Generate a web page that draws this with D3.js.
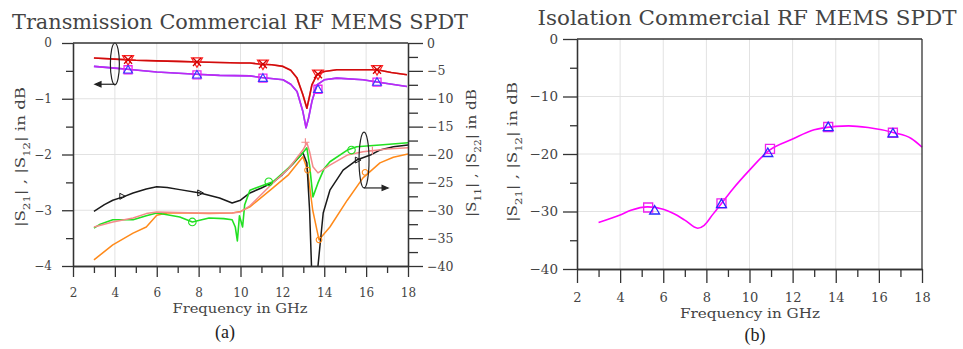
<!DOCTYPE html>
<html>
<head>
<meta charset="utf-8">
<script src="https://cdn.jsdelivr.net/npm/d3@7"></script>
<style>
  body { margin: 0; background: #fff; }
  svg { display: block; }
  .axis path, .axis line { stroke: #333; stroke-width: 1.3; }
  .axis text { font-family: 'DejaVu Serif', serif; fill: #444; }
  .grid line { stroke: #e2e2e2; stroke-width: 1; }
</style>
</head>
<body>
<div id="chart"></div>
<script>
// tick values
const xMajor = [2, 4, 6, 8, 10, 12, 14, 16, 18];
const xMinor = [3, 5, 7, 9, 11, 13, 15, 17];
const yLeftMajor = [0, -1, -2, -3, -4];
const yLeftMinor = [-0.5, -1.5, -2.5, -3.5];
const yRightMajor = [0, -5, -10, -15, -20, -25, -30, -35, -40];
const yRightMinor = [-2.5, -7.5, -12.5, -17.5, -22.5, -27.5, -32.5, -37.5];
const isoMajor = [0, -10, -20, -30, -40];
const isoMinor = [-5, -15, -25, -35];

// (a) transmission |S21|, |S12|  [GHz, dB] left axis
const s21Red = [[3,-0.27],[4,-0.29],[5,-0.31],[6,-0.32],[7,-0.33],[8,-0.34],[9,-0.35],[10,-0.36],[10.45,-0.36],[11,-0.38],[11.5,-0.39],[12.03,-0.42],[12.4,-0.49],[12.7,-0.63],[12.98,-0.93],[13.17,-1.17],[13.3,-0.95],[13.41,-0.75],[13.65,-0.57],[14,-0.51],[14.6,-0.48],[15.5,-0.48],[16.52,-0.48],[17.2,-0.53],[17.95,-0.57]];
const s12Mag = [[3,-0.42],[4,-0.45],[4.6,-0.47],[6,-0.52],[7.9,-0.56],[9,-0.58],[10.45,-0.59],[11,-0.62],[12.03,-0.66],[12.4,-0.74],[12.7,-0.87],[12.98,-1.23],[13.13,-1.52],[13.25,-1.35],[13.41,-1.05],[13.65,-0.75],[14,-0.66],[14.6,-0.63],[15.85,-0.66],[16.52,-0.7],[17.95,-0.78]];
const redMarks = [[4.63,-0.3],[7.92,-0.34],[11.07,-0.38],[13.7,-0.56],[16.52,-0.48]];
const magMarks = [[4.63,-0.48],[7.92,-0.57],[11.07,-0.63],[13.7,-0.83],[16.52,-0.7]];

// (a) reflection |S11|, |S22|  [GHz, dB] right axis
const s11Black = [[3,-30.2],[3.5,-29],[3.9,-28.2],[4.4,-27.6],[4.87,-26.9],[5.5,-26.2],[6,-25.8],[6.5,-25.9],[7.1,-26.3],[8.07,-26.9],[9,-27.8],[9.6,-28.7],[10,-28.2],[10.45,-26.9],[11,-26],[11.55,-25],[12,-23.6],[12.5,-21.7],[12.98,-19.7],[13.17,-21.5],[13.3,-30],[13.4,-41],[13.6,-41],[13.7,-40],[13.95,-30.5],[14.27,-26.4],[14.9,-22.8],[15.55,-21],[16.2,-20.1],[16.66,-19.2],[17.3,-18.6],[18,-18.3]];
const s22Pink = [[3,-33],[3.9,-32.1],[4.87,-31.4],[5.5,-30.6],[6,-30.3],[7,-30.4],[8,-30.5],[9,-30.5],[9.6,-30.5],[10,-30.3],[10.45,-29.2],[11.55,-25.1],[12.3,-22.5],[12.98,-19.2],[13.17,-17.9],[13.3,-19.5],[13.46,-22.2],[13.7,-23.3],[14.27,-21.9],[15.1,-20.1],[15.85,-19.5],[17,-19],[18,-18.8]];
const s11Green = [[3,-33.2],[3.3,-32.5],[3.9,-31.7],[4.87,-31.7],[5.5,-31],[6,-30.5],[6.5,-30.8],[7.1,-31.2],[7.7,-32.1],[8.5,-31.4],[9.2,-31.5],[9.6,-31.7],[9.75,-33],[9.85,-35.5],[9.95,-31],[10.1,-33],[10.2,-29],[10.45,-26.4],[11.55,-24.9],[12.3,-22.4],[12.98,-19.7],[13.17,-18.8],[13.3,-22],[13.46,-27.6],[13.7,-25.1],[14,-22.5],[14.27,-21.3],[15.1,-19.2],[15.55,-18.6],[16.66,-18.3],[18,-17.9]];
const s22Orange = [[3,-38.9],[3.3,-38],[3.9,-36.2],[4.87,-34.1],[5.5,-33],[6,-30.9],[6.5,-30.5],[7.5,-30.5],[8.5,-30.6],[9.6,-30.5],[10,-30.2],[10.45,-29.4],[11.55,-26],[12.3,-23.6],[12.98,-20.4],[13.2,-22.8],[13.45,-30],[13.75,-35.3],[14.27,-33],[15.1,-28.2],[15.85,-24.2],[16.66,-21.5],[17.3,-20.5],[18,-19.9]];
const blackMarks = [[4.35,-27.5],[8.07,-26.9],[15.6,-21]];
const pinkMarks = [[13.1,-17.8],[16.3,-19.3]];
const greenMarks = [[7.7,-32.1],[11.35,-24.9],[15.3,-19.2]];
const orangeMarks = [[13.2,-22.8],[13.75,-35.3],[15.95,-23.2]];

// (b) isolation [GHz, dB]
const isoCurve = [[3,-31.9],[4,-30.6],[4.5,-29.8],[5.27,-29.2],[6,-29.6],[6.5,-30.4],[7,-31.5],[7.6,-32.9],[7.9,-32.4],[8.3,-30.5],[8.7,-28.6],[9.2,-26.2],[10,-22.8],[10.9,-19.4],[12,-17.4],[13,-15.8],[14,-15.2],[14.6,-15.1],[15.5,-15.4],[16.7,-16.3],[17.5,-17.3],[18,-18.8]];
const isoSquares = [[5.3,-29.3],[8.7,-28.6],[10.95,-19.1],[13.65,-15.3],[16.65,-16.3]];
const isoTriangles = [[5.6,-29.8],[8.7,-28.7],[10.85,-19.8],[13.65,-15.3],[16.65,-16.4]];

const W = 963, H = 349;
const svg = d3.select('#chart').append('svg').attr('width', W).attr('height', H);
const fmt = d3.format('d');

function triPath(s, dir) {
  // dir: 1 = up, -1 = down
  const h = s * 0.9;
  return `M0,${-dir * h * 0.6}L${s * 0.55},${dir * h * 0.45}L${-s * 0.55},${dir * h * 0.45}Z`;
}
function rightTriPath(s) {
  return `M${s * 0.55},0L${-s * 0.4},${-s * 0.5}L${-s * 0.4},${s * 0.5}Z`;
}
function xPath(s) { const h = s / 2; return `M${-h},${-h}L${h},${h}M${-h},${h}L${h},${-h}`; }
function plusPath(s) { const h = s / 2; return `M${-h},0L${h},0M0,${-h}L0,${h}`; }
function sqPath(s) { const h = s / 2; return `M${-h},${-h}H${h}V${h}H${-h}Z`; }

function drawMarks(g, data, x, y, path, color, width) {
  g.selectAll(null).data(data).enter().append('path')
    .attr('transform', d => `translate(${x(d[0])},${y(d[1])})`)
    .attr('d', path)
    .attr('fill', 'none')
    .attr('stroke', color)
    .attr('stroke-width', width || 1.2);
}

function drawLine(g, data, x, y, color, width, opacity, curve) {
  const line = d3.line().x(d => x(d[0])).y(d => y(d[1])).curve(curve || d3.curveLinear);
  g.append('path').datum(data)
    .attr('d', line)
    .attr('fill', 'none')
    .attr('stroke', color)
    .attr('stroke-width', width)
    .attr('stroke-opacity', opacity == null ? 1 : opacity)
    .attr('stroke-linejoin', 'round');
}

function subLabel(t, parts) {
  parts.forEach(p => {
    const ts = t.append('tspan').text(p[0]);
    if (p[1]) ts.attr('baseline-shift', 'sub').style('font-size', '70%');
  });
}

// ---------------- (a) transmission ----------------
const ax = { left: 73, right: 408, top: 43, bottom: 266 };
const xA = d3.scaleLinear().domain([2, 18]).range([ax.left, ax.right]);
const yL = d3.scaleLinear().domain([-4, 0]).range([ax.bottom, ax.top]);
const yR = d3.scaleLinear().domain([-40, 0]).range([ax.bottom, ax.top]);

const gA = svg.append('g');

gA.append('g').attr('class', 'grid')
  .selectAll('line').data(xMajor.slice(1, -1)).enter().append('line')
  .attr('x1', d => xA(d)).attr('x2', d => xA(d)).attr('y1', ax.top).attr('y2', ax.bottom);
gA.append('g').attr('class', 'grid')
  .selectAll('line').data(yLeftMajor.slice(1, -1)).enter().append('line')
  .attr('y1', d => yL(d)).attr('y2', d => yL(d)).attr('x1', ax.left).attr('x2', ax.right);

svg.append('clipPath').attr('id', 'clipA').append('rect')
  .attr('x', ax.left).attr('y', ax.top).attr('width', ax.right - ax.left).attr('height', ax.bottom - ax.top);
const dA = gA.append('g').attr('clip-path', 'url(#clipA)');

drawLine(dA, s22Orange, xA, yR, '#ff8a1a', 1.5);
drawLine(dA, s11Black, xA, yR, '#1a1a1a', 1.5);
drawLine(dA, s11Green, xA, yR, '#22e022', 1.6);
drawLine(dA, s22Pink, xA, yR, '#f58a8a', 1.5);
drawLine(dA, s12Mag, xA, yL, '#3a3aff', 1.6);
drawLine(dA, s12Mag, xA, yL, '#ee22ee', 1.6, 0.75);
drawLine(dA, s21Red, xA, yL, '#ff2020', 1.6);
drawLine(dA, s21Red, xA, yL, '#b00000', 1.6, 0.6);

drawMarks(gA, redMarks, xA, yL, triPath(10, -1), '#ff2020', 1.2);
drawMarks(gA, redMarks, xA, yL, xPath(8), '#cc0000', 1.3);
drawMarks(gA, magMarks, xA, yL, sqPath(8), '#ee22ee', 1.3);
drawMarks(gA, magMarks, xA, yL, triPath(8, 1), '#3a3aff', 1.2);
drawMarks(gA, blackMarks, xA, yR, rightTriPath(6), '#1a1a1a', 1);
drawMarks(gA, pinkMarks, xA, yR, plusPath(8), '#f58a8a', 1.2);
drawMarks(gA, greenMarks, xA, yR, d3.symbol(d3.symbolCircle, 45)(), '#22e022', 1.1);
drawMarks(gA, orangeMarks, xA, yR, d3.symbol(d3.symbolCircle, 25)(), '#ff8a1a', 1.1);

// annotation ellipses
const arrowA = gA.append('g').attr('stroke', '#222').attr('fill', 'none').attr('stroke-width', 1.2);
arrowA.append('ellipse').attr('cx', xA(4.0)).attr('cy', (yL(0) + yL(-0.75)) / 2)
  .attr('rx', 4.5).attr('ry', (yL(-0.75) - yL(0)) / 2);
arrowA.append('line').attr('x1', xA(4.0)).attr('x2', xA(3.1)).attr('y1', yL(-0.74)).attr('y2', yL(-0.74));
arrowA.append('path').attr('d', `M${xA(3.05)},${yL(-0.74)}l6,-2.5l0,5z`).attr('fill', '#222');
arrowA.append('ellipse').attr('cx', xA(15.9)).attr('cy', (yR(-16) + yR(-26)) / 2)
  .attr('rx', 5).attr('ry', (yR(-26) - yR(-16)) / 2);
arrowA.append('line').attr('x1', xA(15.9)).attr('x2', xA(16.95)).attr('y1', yR(-26)).attr('y2', yR(-26));
arrowA.append('path').attr('d', `M${xA(17.05)},${yR(-26)}l-6,-2.5l0,5z`).attr('fill', '#222');

// axes
gA.append('line').attr('x1', ax.left).attr('x2', ax.right).attr('y1', ax.top).attr('y2', ax.top)
  .attr('stroke', '#333').attr('stroke-width', 1.3);
gA.append('g').attr('class', 'axis').attr('transform', `translate(0,${ax.bottom})`)
  .call(d3.axisBottom(xA).tickValues(xMinor).tickSize(7).tickSizeOuter(0).tickFormat(''));
gA.append('g').attr('class', 'axis').attr('transform', `translate(0,${ax.bottom})`)
  .call(d3.axisBottom(xA).tickValues(xMajor).tickSize(11).tickSizeOuter(0).tickPadding(11).tickFormat(fmt))
  .selectAll('text').style('font-size', '12px');
gA.append('g').attr('class', 'axis').attr('transform', `translate(${ax.left},0)`)
  .call(d3.axisLeft(yL).tickValues(yLeftMinor).tickSize(7).tickSizeOuter(0).tickFormat(''));
gA.append('g').attr('class', 'axis').attr('transform', `translate(${ax.left},0)`)
  .call(d3.axisLeft(yL).tickValues(yLeftMajor).tickSize(11).tickSizeOuter(0).tickPadding(10).tickFormat(fmt))
  .selectAll('text').style('font-size', '12px');
gA.append('g').attr('class', 'axis').attr('transform', `translate(${ax.right},0)`)
  .call(d3.axisRight(yR).tickValues(yRightMinor).tickSize(10).tickSizeOuter(0).tickFormat(''));
gA.append('g').attr('class', 'axis').attr('transform', `translate(${ax.right},0)`)
  .call(d3.axisRight(yR).tickValues(yRightMajor).tickSize(15).tickSizeOuter(0).tickPadding(4).tickFormat(fmt))
  .selectAll('text').style('font-size', '12.5px');

gA.append('text').attr('x', 240).attr('y', 29).attr('text-anchor', 'middle')
  .attr('textLength', 456).attr('lengthAdjust', 'spacingAndGlyphs')
  .style('font-family', 'DejaVu Serif').style('font-size', '20px').style('fill', '#444')
  .text('Transmission Commercial RF MEMS SPDT');
gA.append('text').attr('x', 240).attr('y', 313).attr('text-anchor', 'middle')
  .attr('textLength', 135).attr('lengthAdjust', 'spacingAndGlyphs')
  .style('font-family', 'DejaVu Serif').style('font-size', '12px').style('fill', '#444')
  .text('Frequency in GHz');
gA.append('text').attr('x', 225).attr('y', 338).attr('text-anchor', 'middle')
  .style('font-family', 'Liberation Serif').style('font-size', '18px').style('fill', '#222')
  .text('(a)');
subLabel(gA.append('text').attr('transform', 'translate(25,157) rotate(-90)').attr('text-anchor', 'middle')
  .attr('textLength', 140).attr('lengthAdjust', 'spacingAndGlyphs')
  .style('font-family', 'DejaVu Serif').style('font-size', '12.5px').style('fill', '#444'),
  [['|S'], ['21', 1], ['| , |S'], ['12', 1], ['| in dB']]);
subLabel(gA.append('text').attr('transform', 'translate(476,153) rotate(-90)').attr('text-anchor', 'middle')
  .attr('textLength', 128).attr('lengthAdjust', 'spacingAndGlyphs')
  .style('font-family', 'DejaVu Serif').style('font-size', '12.5px').style('fill', '#444'),
  [['|S'], ['11', 1], ['| , |S'], ['22', 1], ['| in dB']]);

// ---------------- (b) isolation ----------------
const bx = { left: 577, right: 922, top: 39, bottom: 269 };
const xB = d3.scaleLinear().domain([2, 18]).range([bx.left, bx.right]);
const yB = d3.scaleLinear().domain([-40, 0]).range([bx.bottom, bx.top]);
const gB = svg.append('g');

gB.append('g').attr('class', 'grid')
  .selectAll('line').data(xMajor.slice(1, -1)).enter().append('line')
  .attr('x1', d => xB(d)).attr('x2', d => xB(d)).attr('y1', bx.top).attr('y2', bx.bottom);
gB.append('g').attr('class', 'grid')
  .selectAll('line').data(isoMajor.slice(1, -1)).enter().append('line')
  .attr('y1', d => yB(d)).attr('y2', d => yB(d)).attr('x1', bx.left).attr('x2', bx.right);

drawLine(gB, isoCurve, xB, yB, '#ff00ff', 1.6, 1, d3.curveMonotoneX);
drawMarks(gB, isoSquares, xB, yB, sqPath(9), '#ee22ee', 1.3);
drawMarks(gB, isoTriangles, xB, yB, triPath(9, 1), '#2a2aff', 1.3);

gB.append('line').attr('x1', bx.left).attr('x2', bx.right).attr('y1', bx.top).attr('y2', bx.top)
  .attr('stroke', '#333').attr('stroke-width', 1.3);
gB.append('line').attr('x1', bx.right).attr('x2', bx.right).attr('y1', bx.top).attr('y2', bx.bottom)
  .attr('stroke', '#333').attr('stroke-width', 1.3);
gB.append('g').attr('class', 'axis').attr('transform', `translate(0,${bx.bottom})`)
  .call(d3.axisBottom(xB).tickValues(xMinor).tickSize(8).tickSizeOuter(0).tickFormat(''));
gB.append('g').attr('class', 'axis').attr('transform', `translate(0,${bx.bottom})`)
  .call(d3.axisBottom(xB).tickValues(xMajor).tickSize(14).tickSizeOuter(0).tickPadding(10).tickFormat(fmt))
  .selectAll('text').style('font-size', '13px');
gB.append('g').attr('class', 'axis').attr('transform', `translate(${bx.left},0)`)
  .call(d3.axisLeft(yB).tickValues(isoMinor).tickSize(7).tickSizeOuter(0).tickFormat(''));
gB.append('g').attr('class', 'axis').attr('transform', `translate(${bx.left},0)`)
  .call(d3.axisLeft(yB).tickValues(isoMajor).tickSize(14).tickSizeOuter(0).tickPadding(5).tickFormat(fmt))
  .selectAll('text').style('font-size', '13.5px');

gB.append('text').attr('x', 747).attr('y', 25).attr('text-anchor', 'middle')
  .attr('textLength', 419).attr('lengthAdjust', 'spacingAndGlyphs')
  .style('font-family', 'DejaVu Serif').style('font-size', '20px').style('fill', '#444')
  .text('Isolation Commercial RF MEMS SPDT');
gB.append('text').attr('x', 750).attr('y', 318).attr('text-anchor', 'middle')
  .attr('textLength', 140).attr('lengthAdjust', 'spacingAndGlyphs')
  .style('font-family', 'DejaVu Serif').style('font-size', '12.5px').style('fill', '#444')
  .text('Frequency in GHz');
gB.append('text').attr('x', 755).attr('y', 341).attr('text-anchor', 'middle')
  .style('font-family', 'Liberation Serif').style('font-size', '18px').style('fill', '#222')
  .text('(b)');
subLabel(gB.append('text').attr('transform', 'translate(517,152) rotate(-90)').attr('text-anchor', 'middle')
  .attr('textLength', 140).attr('lengthAdjust', 'spacingAndGlyphs')
  .style('font-family', 'DejaVu Serif').style('font-size', '13px').style('fill', '#444'),
  [['|S'], ['21', 1], ['| , |S'], ['12', 1], ['| in dB']]);
</script>
</body>
</html>
